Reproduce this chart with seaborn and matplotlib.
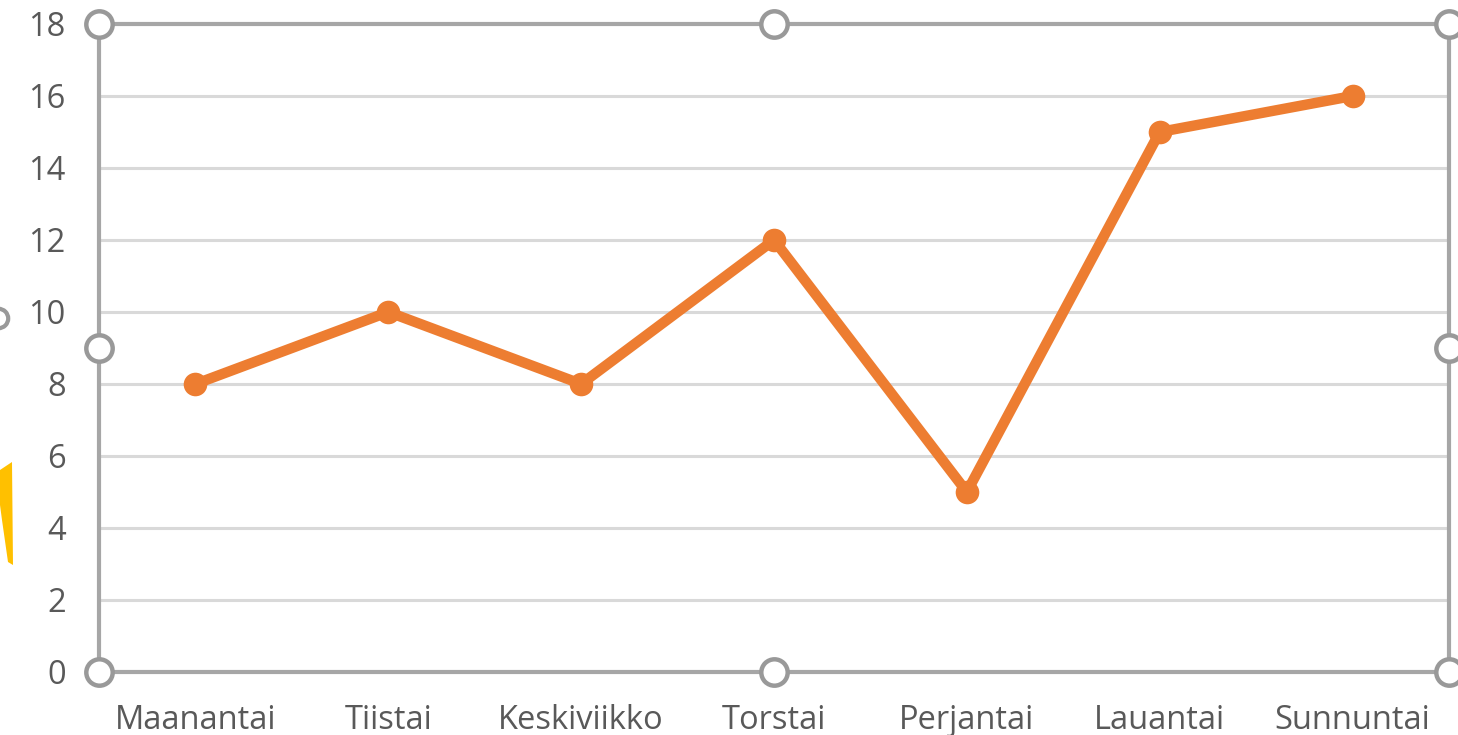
import matplotlib
matplotlib.use("Agg")
import matplotlib.pyplot as plt
from matplotlib.patches import Polygon
import pandas as pd
import seaborn as sns

days = ["Maanantai", "Tiistai", "Keskiviikko", "Torstai", "Perjantai", "Lauantai", "Sunnuntai"]
values = [8, 10, 8, 12, 5, 15, 16]
yticks = [0, 2, 4, 6, 8, 10, 12, 14, 16, 18]

df = pd.DataFrame({"day": days, "value": values})

sns.set_style("white")
plt.rcParams["font.family"] = ["Open Sans", "DejaVu Sans"]

W, H = 1458, 735
fig = plt.figure(figsize=(W / 100, H / 100), dpi=100)
ax = fig.add_axes([99 / W, 63 / H, 1350 / W, 648 / H])

sns.lineplot(data=df, x="day", y="value", sort=False, ax=ax,
             color="#ED7D31", linewidth=7.5, marker="o", markersize=17,
             markeredgewidth=0, zorder=3)

ax.set_xlim(-0.5, len(days) - 0.5)
ax.set_ylim(0, 18)
ax.set_yticks(yticks)
ax.set_xlabel("")
ax.set_ylabel("")

# light gridlines
for y in yticks[1:-1]:
    ax.axhline(y, color="#d9d9d9", lw=2.2, zorder=1)

for s in ax.spines.values():
    s.set_color("#a6a6a6")
    s.set_linewidth(3)

ax.tick_params(axis="both", length=0, labelsize=23.5, colors="#595959")
ax.tick_params(axis="y", pad=24)
ax.tick_params(axis="x", pad=23)

# selection handles
hx = [0, 0.5, 1, 0, 1, 0, 0.5, 1]
hy = [1, 1, 1, 0.5, 0.5, 0, 0, 0]
ax.plot(hx, hy, "o", transform=ax.transAxes, clip_on=False, ms=19,
        mfc="white", mec="#999999", mew=3.2, zorder=5)

# bits of other objects at left edge
fig.patches.append(Polygon([(0 / W, (H - 470) / H), (12 / W, (H - 462) / H),
                            (13 / W, (H - 565) / H), (8 / W, (H - 562) / H),
                            (2 / W, (H - 520) / H), (0 / W, (H - 505) / H)],
                           closed=True, transform=fig.transFigure,
                           facecolor="#FFC000", edgecolor="none"))
fig.lines.append(plt.Line2D([-2 / W], [(H - 318) / H], transform=fig.transFigure,
                            marker="o", ms=14, mfc="white", mec="#999999", mew=3))

fig.savefig("out.png", dpi=100)
